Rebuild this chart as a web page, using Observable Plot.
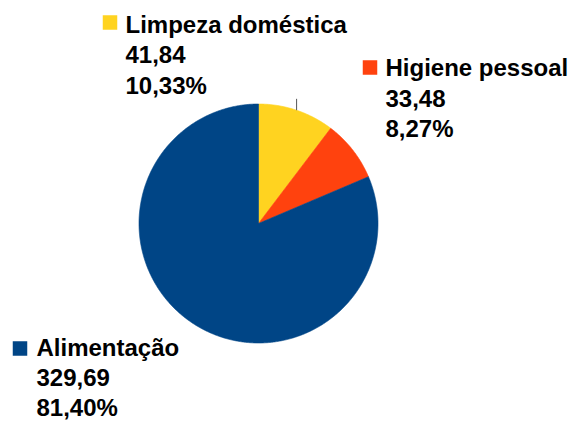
<!DOCTYPE html>
<html>
<head>
<meta charset="utf-8">
<script src="https://cdn.jsdelivr.net/npm/d3@7"></script>
<script src="https://cdn.jsdelivr.net/npm/@observablehq/plot@0.6"></script>
<style>
  html, body { margin: 0; padding: 0; background: #fff; }
  #chart svg { display: block; }
</style>
</head>
<body>
<div id="chart"></div>
<script>
// ---- data ----
const categories = ["Limpeza doméstica", "Higiene pessoal", "Alimentação"];
const values = [41.84, 33.48, 329.69];
const valueLabels = ["41,84", "33,48", "329,69"];
const percentLabels = ["10,33%", "8,27%", "81,40%"];
const colors = ["#ffd320", "#ff420e", "#004586"];

// ---- layout (pixels) ----
const W = 578, H = 421;
const cx = 258, cy = 223, R = 119.5;
// label text start / top of first line, line step, legend square centre
const labelLayout = [
  {tx: 125, ty: 15,    step: 30.5, sx: 109.5, sy: 22},
  {tx: 385, ty: 58.7,  step: 30.5, sx: 369.5, sy: 67},
  {tx: 36,  ty: 338.7, step: 29.7, sx: 19.5,  sy: 348}
];
const X = px => (px - cx) / R;
const Y = py => (cy - py) / R;

// ---- pie geometry from values ----
const total = d3.sum(values);
let acc = 0;
const slices = categories.map((c, i) => {
  const a0 = acc / total * 2 * Math.PI;
  acc += values[i];
  const a1 = acc / total * 2 * Math.PI;
  return {cat: c, a0, a1};
});
const arcPts = [];
for (const s of slices) {
  arcPts.push({cat: s.cat, x: 0, y: 0});
  const n = Math.max(2, Math.ceil((s.a1 - s.a0) / (Math.PI / 360)));
  for (let k = 0; k <= n; k++) {
    const t = s.a0 + (s.a1 - s.a0) * k / n;
    arcPts.push({cat: s.cat, x: Math.sin(t), y: Math.cos(t)});
  }
  arcPts.push({cat: s.cat, x: 0, y: 0});
}

// leader line for first slice (mid angle)
const mid = (slices[0].a0 + slices[0].a1) / 2;
const leader = [{x: Math.sin(mid), y1: Math.cos(mid), y2: Math.cos(mid) + 11.4 / R}];

const nameLabels = categories.map((c, i) => ({
  cat: c, text: c,
  x: X(labelLayout[i].tx), y: Y(labelLayout[i].ty),
  sx: X(labelLayout[i].sx), sy: Y(labelLayout[i].sy)
}));
const numLabels = categories.map((c, i) => ({
  cat: c, v: valueLabels[i], p: percentLabels[i],
  x: X(labelLayout[i].tx),
  y1: Y(labelLayout[i].ty + labelLayout[i].step),
  y2: Y(labelLayout[i].ty + 2 * labelLayout[i].step)
}));

const font = "'Liberation Sans', Arial, sans-serif";
const textOpts = {textAnchor: "start", lineAnchor: "top", fontSize: 24, fontWeight: "bold", fill: "#000", fontFamily: font};

const chart = Plot.plot({
  width: W,
  height: H,
  margin: 0,
  x: {domain: [X(0), X(W)], axis: null},
  y: {domain: [Y(H), Y(0)], axis: null},
  color: {domain: categories, range: colors},
  style: {background: "#fff", fontFamily: font},
  marks: [
    Plot.line(arcPts, {x: "x", y: "y", z: "cat", fill: "cat", stroke: "cat", strokeWidth: 0.6, curve: "linear"}),
    Plot.link(leader, {x1: "x", x2: "x", y1: "y1", y2: "y2", stroke: "#555", strokeWidth: 1}),
    Plot.dot(nameLabels, {x: "sx", y: "sy", fill: "cat", symbol: "square", r: 14.5 / Math.sqrt(Math.PI), stroke: null}),
    Plot.text(nameLabels, {x: "x", y: "y", text: "text", ...textOpts, style: "letter-spacing:0.9px"}),
    Plot.text(numLabels, {x: "x", y: "y1", text: "v", ...textOpts}),
    Plot.text(numLabels, {x: "x", y: "y2", text: "p", ...textOpts})
  ]
});
document.getElementById("chart").append(chart);
</script>
</body>
</html>
